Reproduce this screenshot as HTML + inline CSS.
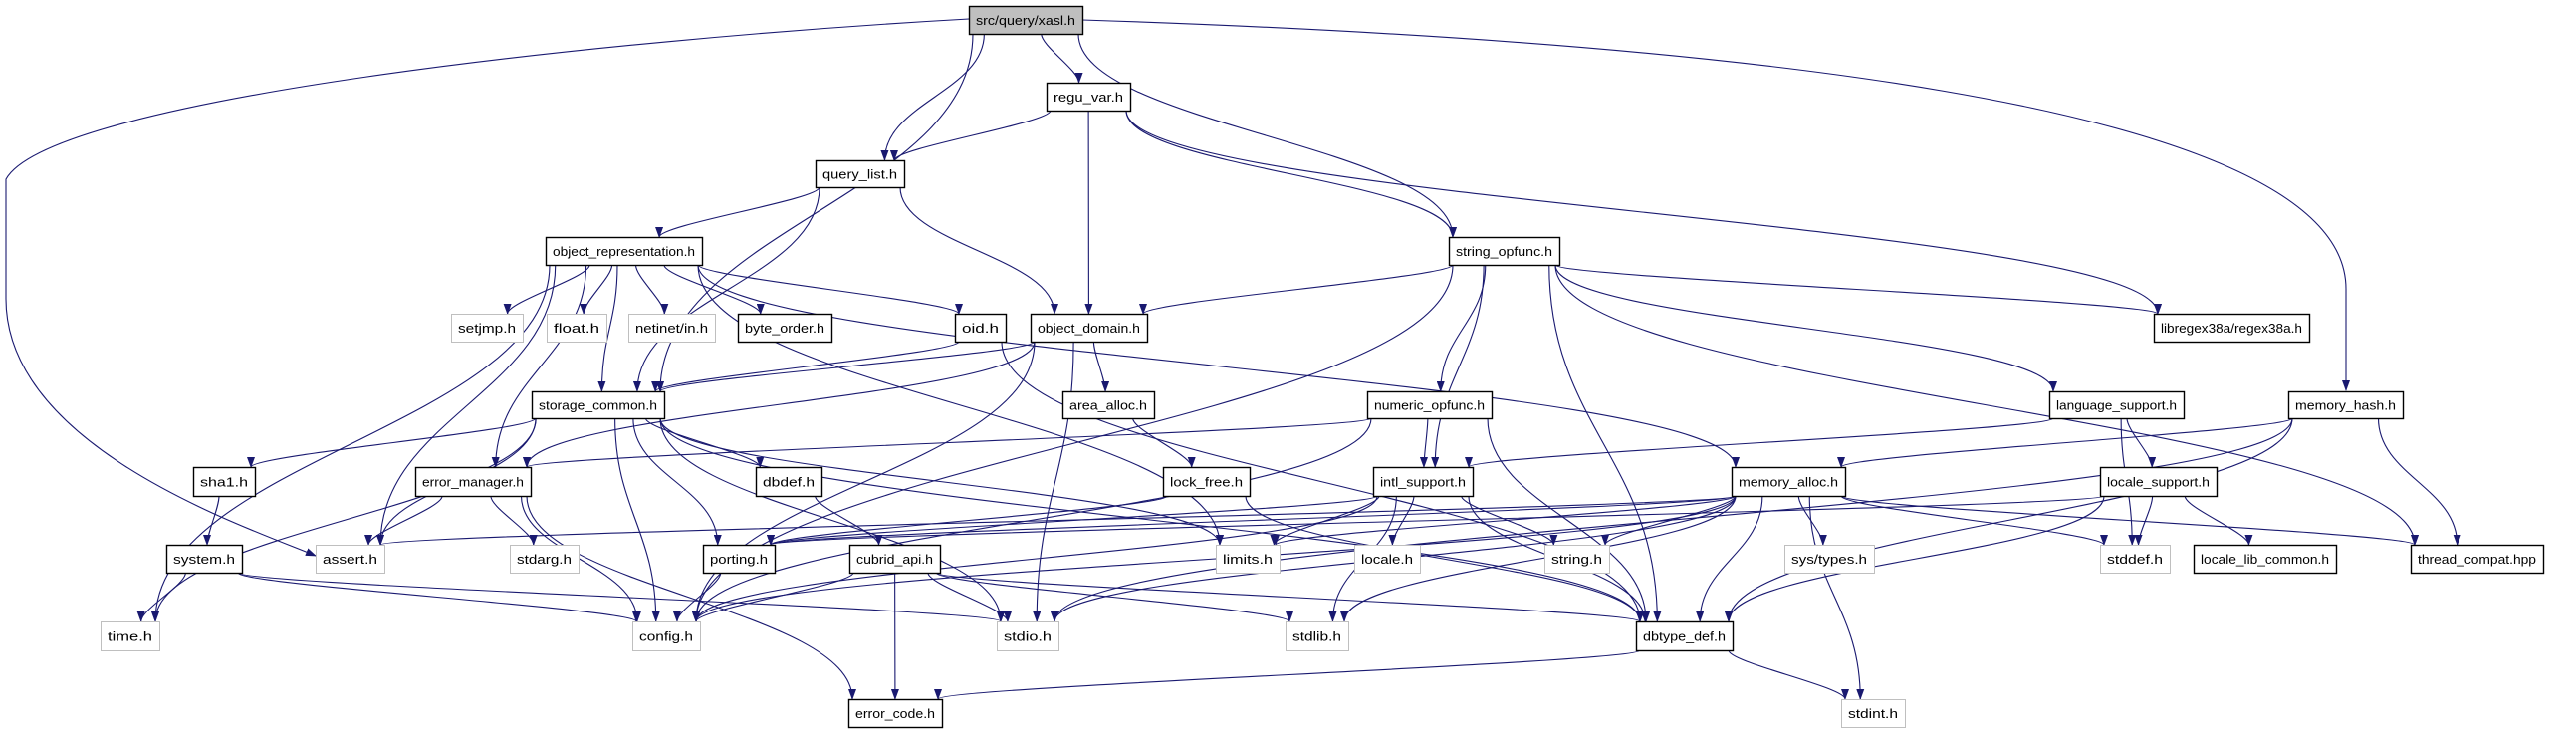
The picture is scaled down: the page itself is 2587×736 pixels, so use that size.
<!DOCTYPE html>
<html><head><meta charset="utf-8"><style>
html,body{margin:0;padding:0;background:#fff;width:2587px;height:736px;overflow:hidden}
svg{display:block}
text{font-family:"Liberation Sans",sans-serif;font-size:13px}
</style></head><body>
<svg id="g" width="2587" height="736" xmlns="http://www.w3.org/2000/svg">
<defs><marker id="ar" markerWidth="11" markerHeight="8" refX="10" refY="4" orient="auto" markerUnits="userSpaceOnUse"><path d="M0,0 L11,4 L0,8 Z" fill="#191970"/></marker></defs>
<g id="edges" fill="none" stroke="#191970" stroke-width="1.1"></g>
<g id="nodes"></g>
</svg>
<script>
var R=[[6,34],[83,111],[161,188],[238,266],[315,343],[393,420],[469,498],[547,575],[624,653],[702,730]];
var N={
xasl:[973,1087,0,"src/query/xasl.h",2],
regu:[1051,1135,1,"regu_var.h"],
ql:[819,908,2,"query_list.h"],
orep:[548,705,3,"object_representation.h"],
sop:[1455,1566,3,"string_opfunc.h"],
setjmp:[453,525,4,"setjmp.h",1],
float:[549,609,4,"float.h",1],
netinet:[631,718,4,"netinet/in.h",1],
bo:[741,835,4,"byte_order.h"],
oid:[959,1010,4,"oid.h"],
od:[1035,1152,4,"object_domain.h"],
regex:[2163,2319,4,"libregex38a/regex38a.h"],
sc:[534,667,5,"storage_common.h"],
aa:[1067,1159,5,"area_alloc.h"],
nop:[1373,1498,5,"numeric_opfunc.h"],
ls:[2058,2193,5,"language_support.h"],
mh:[2298,2413,5,"memory_hash.h"],
sha1:[194,256,6,"sha1.h"],
em:[417,533,6,"error_manager.h"],
dbdef:[759,825,6,"dbdef.h"],
lf:[1168,1255,6,"lock_free.h"],
intl:[1379,1479,6,"intl_support.h"],
ma:[1739,1853,6,"memory_alloc.h"],
locs:[2109,2226,6,"locale_support.h"],
sys:[167,243,7,"system.h"],
assert:[317,386,7,"assert.h",1],
stdarg:[512,581,7,"stdarg.h",1],
port:[706,778,7,"porting.h"],
capi:[853,944,7,"cubrid_api.h"],
limits:[1221,1285,7,"limits.h",1],
locale:[1360,1426,7,"locale.h",1],
string:[1551,1616,7,"string.h",1],
systypes:[1792,1882,7,"sys/types.h",1],
stddef:[2109,2179,7,"stddef.h",1],
llc:[2203,2346,7,"locale_lib_common.h"],
tc:[2421,2554,7,"thread_compat.hpp"],
time:[101,160,8,"time.h",1],
config:[635,703,8,"config.h",1],
stdio:[1001,1063,8,"stdio.h",1],
stdlib:[1291,1354,8,"stdlib.h",1],
dbt:[1643,1740,8,"dbtype_def.h"],
ec:[852,946,9,"error_code.h"],
stdint:[1849,1913,9,"stdint.h",1]
};
var E=[
["xasl","ql"],["xasl","sc"],["xasl","regu"],["xasl","sop"],
["regu","ql"],["regu","od"],["regu","sop"],["regu","regex"],
["ql","orep"],["ql","sc"],["ql","od"],
["orep","setjmp"],["orep","float"],["orep","netinet"],["orep","bo"],["orep","oid"],["orep","sc"],["orep","em"],["orep","time"],["orep","assert"],["orep","ma"],["orep","limits"],
["sop","od"],["sop","nop"],["sop","intl"],["sop","ls"],["sop","regex"],["sop","tc"],["sop","dbt"],["sop","config"],
["oid","sc"],["oid","dbt"],
["od","sc"],["od","aa"],["od","config"],["od","stdio"],["od","em"],
["sc","sha1"],["sc","dbdef"],["sc","port"],["sc","assert"],["sc","time"],["sc","config"],["sc","stdio"],["sc","dbt"],["sc","limits"],
["aa","lf"],["lf","port"],["lf","dbt"],
["nop","em"],["nop","intl"],["nop","config"],["nop","dbt"],
["intl","limits"],["intl","locale"],["intl","string"],["intl","stdlib"],["intl","dbt"],["intl","port"],["intl","config"],
["ls","intl"],["ls","stddef"],["ls","locs"],
["mh","ma"],["mh","tc"],["mh","dbt"],["mh","stdio"],
["ma","systypes"],["ma","stddef"],["ma","tc"],["ma","limits"],["ma","string"],["ma","stdlib"],["ma","stdio"],["ma","dbt"],["ma","stdint"],["ma","config"],["ma","port"],["ma","assert"],
["locs","stddef"],["locs","llc"],["locs","dbt"],["locs","port"],
["em","assert"],["em","stdarg"],["em","config"],["em","ec"],
["sha1","sys"],["sys","time"],["sys","config"],["sys","stdio"],
["port","config"],["dbdef","capi"],
["capi","config"],["capi","ec"],["capi","stdlib"],["capi","dbt"],["capi","stdio"],
["dbt","ec"],["dbt","stdint"]
];
var NS="http://www.w3.org/2000/svg",eg=document.getElementById("edges"),ng=document.getElementById("nodes");
function P(d){var p=document.createElementNS(NS,"path");p.setAttribute("d",d);p.setAttribute("marker-end","url(#ar)");eg.appendChild(p);}
function cl(v,a,b){return Math.max(a,Math.min(b,v));}
E.forEach(function(e){var a=N[e[0]],b=N[e[1]];
var acx=(a[0]+a[1])/2,bcx=(b[0]+b[1])/2,aw=(a[1]-a[0])/2,bw=(b[1]-b[0])/2;
var sx=acx+cl((bcx-acx)*0.25,-aw+4,aw-4),sy=R[a[2]][1];
var ex=bcx+cl((acx-bcx)*0.15,-bw+4,bw-4),ey=R[b[2]][0];
var dy=ey-sy,f=(b[2]-a[2]>1)?0.45:0.25;
P("M"+sx+","+sy+" C"+sx+","+(sy+dy*f)+" "+ex+","+(ey-dy*f)+" "+ex+","+ey);
});
P("M973,19 C600,40 50,100 6,180 L6,300 C6,450 250,530 317,558");
P("M1087,20 C1700,40 2356,100 2356,290 L2356,392");
for(var k in N){var n=N[k],r=N[k][2];
var rc=document.createElementNS(NS,"rect");
rc.setAttribute("x",n[0]+0.5);rc.setAttribute("y",R[r][0]+0.5);rc.setAttribute("width",n[1]-n[0]);rc.setAttribute("height",R[r][1]-R[r][0]);
rc.setAttribute("fill",n[4]==2?"#bfbfbf":"#fff");rc.setAttribute("stroke",n[4]==1?"#bfbfbf":"#000");rc.setAttribute("stroke-width",n[4]==1?"1":"1.4");
ng.appendChild(rc);
var t=document.createElementNS(NS,"text");t.setAttribute("x",(n[0]+n[1])/2);t.setAttribute("y",(R[r][0]+R[r][1])/2+5);
t.setAttribute("text-anchor","middle");t.setAttribute("textLength",(n[1]-n[0])-14);t.setAttribute("lengthAdjust","spacingAndGlyphs");
t.textContent=n[3];ng.appendChild(t);}
</script>
</body></html>
